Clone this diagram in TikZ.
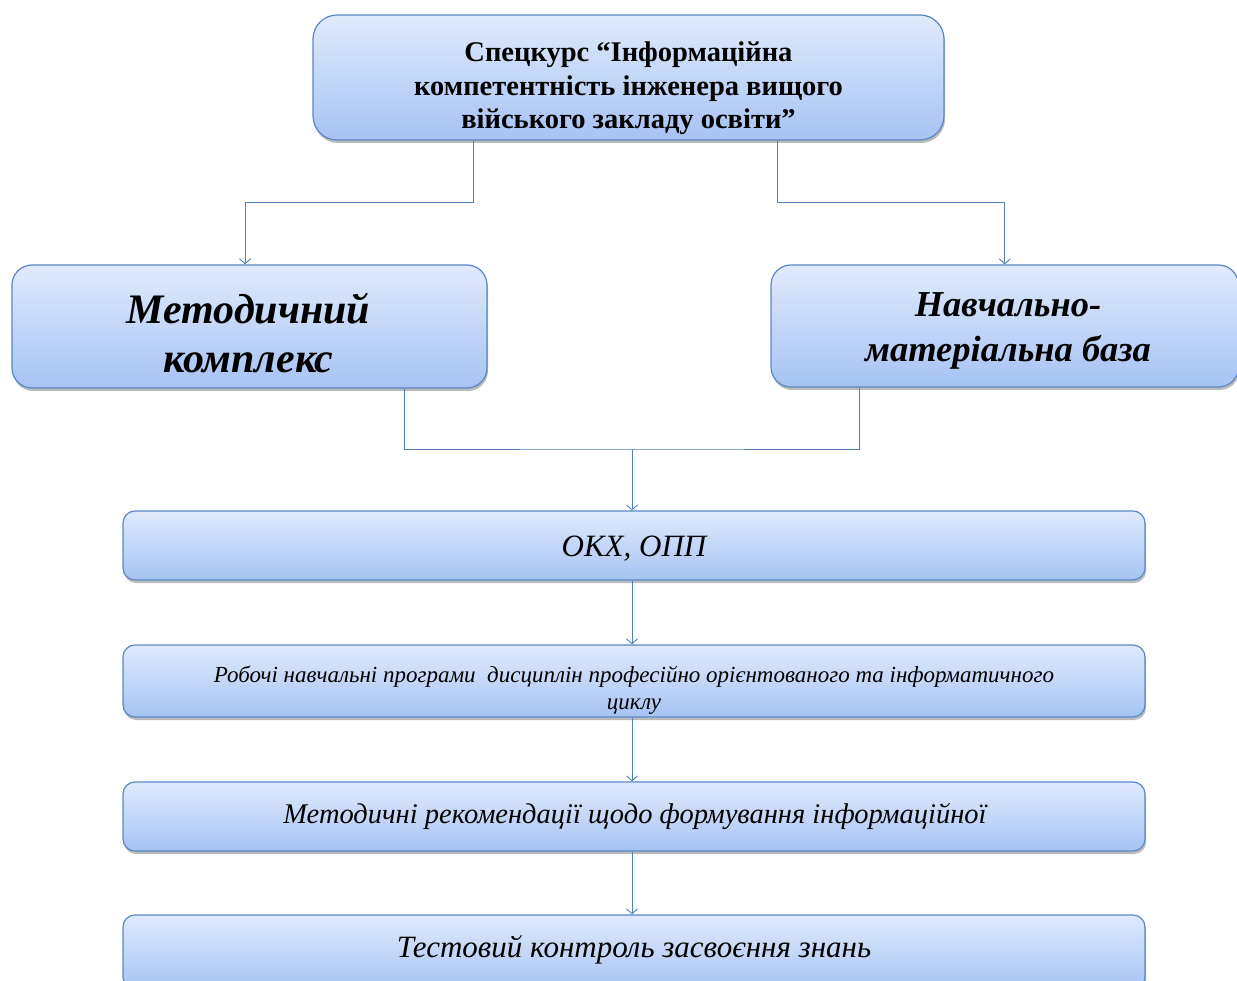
\documentclass[tikz,border=0pt]{standalone}
\usepackage{fontspec}
\setmainfont{Liberation Serif}
\usetikzlibrary{arrows.meta,shadows}

\definecolor{boxline}{HTML}{5A87C5}
\definecolor{boxtop}{HTML}{E0EAFC}
\definecolor{boxbottom}{HTML}{A6C3F4}
\definecolor{linkblue}{HTML}{4F81BD}

\tikzset{
  stagebox/.style={draw=boxline, line width=1.2pt, rounded corners=#1,
    top color=boxtop, bottom color=boxbottom, inner sep=0pt,
    drop shadow={shadow xshift=1pt, shadow yshift=-3pt, opacity=0.45, fill=black!60}},
  stagebox/.default=20pt,
  boxtext/.style={align=center, inner sep=0pt},
  link/.style={draw=linkblue, line width=0.9pt},
  linkarrow/.style={link, -{Straight Barb[length=5pt,width=11pt]}},
}

\begin{document}
\begin{tikzpicture}[x=1pt,y=-1pt]

\clip (0,0) rectangle (1237,981);

% Boxes
  \node[stagebox=24pt, minimum width=631pt, minimum height=125pt] (course) at (628.5,77.5) {};
  \node[stagebox, minimum width=475pt, minimum height=123pt] (methods) at (249.5,326.5) {};
  \node[stagebox, minimum width=467.5pt, minimum height=122pt] (base) at (1004.75,326) {};
  \node[stagebox=12pt, minimum width=1022pt, minimum height=69pt] (okx) at (634,545.5) {};
  \node[stagebox=12pt, minimum width=1022pt, minimum height=72pt] (programs) at (634,681) {};
  \node[stagebox=12pt, minimum width=1022pt, minimum height=69pt] (recs) at (634,816.5) {};
  \node[stagebox=12pt, minimum width=1022pt, minimum height=74pt] (test) at (634,952) {};

% Texts
  \node[boxtext, font=\bfseries\fontsize{28.5}{33.5}\selectfont] (coursetext) at (628.5,88.5)
        {Спецкурс “Інформаційна\\компетентність інженера вищого\\війського закладу освіти”};
  \node[boxtext, font=\bfseries\itshape\fontsize{42}{49}\selectfont] (methodstext) at (248.5,333.5)
        {Методичний\\комплекс};
  \node[boxtext, font=\bfseries\itshape\fontsize{36.5}{45}\selectfont] (basetext) at (1008,331)
        {Навчально-\\матеріальна база};
  \node[boxtext, font=\itshape\fontsize{31}{36}\selectfont] (okxtext) at (634,548.5) {ОКХ, ОПП};
  \node[boxtext, font=\itshape\fontsize{23}{27}\selectfont] (programstext) at (634,690.5)
        {Робочі навчальні програми \ дисциплін професійно орієнтованого та інформатичного\\циклу};
  \node[boxtext, anchor=base, font=\itshape\fontsize{28.5}{34}\selectfont] (recstext) at (635,823)
        {Методичні рекомендації щодо формування інформаційної};
  \node[boxtext, anchor=base, font=\itshape\fontsize{31}{36}\selectfont] (testtext) at (634,957)
        {Тестовий контроль засвоєння знань};

% Connectors
  \coordinate (mid) at (632,449);

  \draw[linkarrow] ([xshift=-155.5pt]course.south) -- ++(0,62) -| ([xshift=-4.5pt]methods.north);
  \draw[linkarrow] ([xshift=148.5pt]course.south) -- ++(0,62) -| (base.north);

  \draw[link] ([xshift=154.5pt]methods.south) |- (mid) -| ([xshift=-145.75pt]base.south);
  \draw[linkarrow] (mid) -- (mid |- okx.north);

  \draw[linkarrow] (okx.south -| mid) -- (programs.north -| mid);
  \draw[linkarrow] (programs.south -| mid) -- (recs.north -| mid);
  \draw[linkarrow] (recs.south -| mid) -- (test.north -| mid);

\end{tikzpicture}
\end{document}
